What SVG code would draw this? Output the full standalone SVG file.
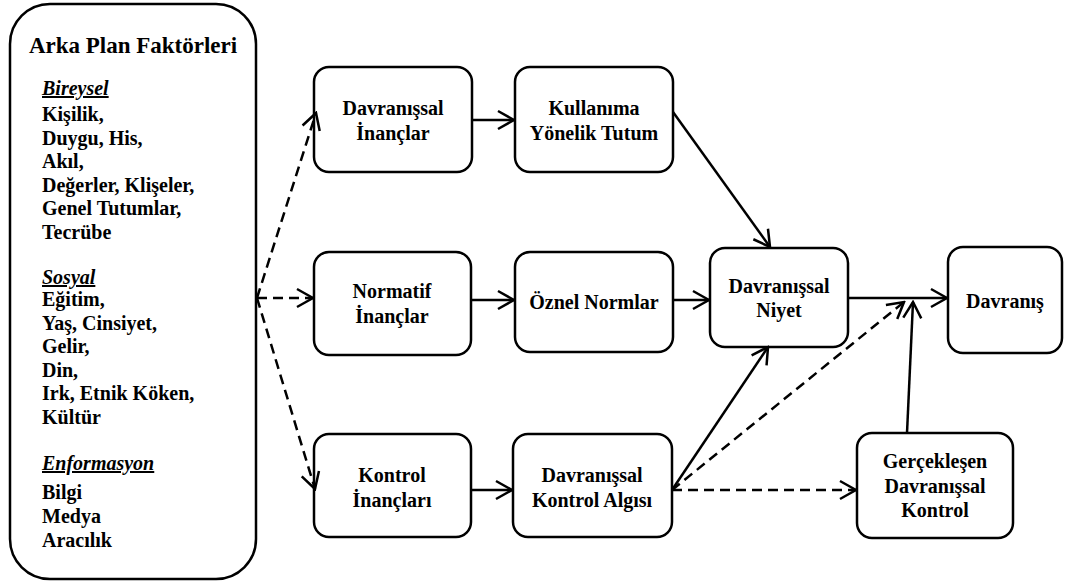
<svg xmlns="http://www.w3.org/2000/svg" width="1065" height="583" viewBox="0 0 1065 583">
  <style>
    .box { fill: #ffffff; stroke: #000000; stroke-width: 2.5; }
    .link { fill: none; stroke: #000000; stroke-width: 2.5; marker-end: url(#arrow); }
    .dash { stroke-dasharray: 10 6; }
  </style>
  <defs>
    <marker id="arrow" markerUnits="userSpaceOnUse" viewBox="-18 -12 20 24" markerWidth="20" markerHeight="24" refX="0" refY="0" orient="auto">
      <path d="M-16,-9 L0,0 L-16,9" fill="none" stroke="#000000" stroke-width="2.5"/>
    </marker>
  </defs>
  <rect width="1065" height="583" fill="#ffffff"/>

  <g font-weight="bold" font-size="20" fill="#000000">
  <!-- background factors panel -->
  <g id="arka-plan">
    <rect class="box" x="10" y="4" width="246" height="575" rx="40" ry="40"/>
    <text style="font-family:'Liberation Serif',serif !important" font-size="23" text-anchor="middle" x="133" y="53">Arka Plan Faktörleri</text>
    <text style="font-family:'Liberation Serif',serif !important" font-style="italic" text-decoration="underline" x="42" y="95">Bireysel</text>
    <text style="font-family:'Liberation Serif',serif !important" x="42" y="121">Kişilik,</text>
    <text style="font-family:'Liberation Serif',serif !important" x="42" y="145">Duygu, His,</text>
    <text style="font-family:'Liberation Serif',serif !important" x="42" y="168">Akıl,</text>
    <text style="font-family:'Liberation Serif',serif !important" x="42" y="192">Değerler, Klişeler,</text>
    <text style="font-family:'Liberation Serif',serif !important" x="42" y="215">Genel Tutumlar,</text>
    <text style="font-family:'Liberation Serif',serif !important" x="42" y="239">Tecrübe</text>
    <text style="font-family:'Liberation Serif',serif !important" font-style="italic" text-decoration="underline" x="42" y="284">Sosyal</text>
    <text style="font-family:'Liberation Serif',serif !important" x="42" y="306">Eğitim,</text>
    <text style="font-family:'Liberation Serif',serif !important" x="42" y="330">Yaş, Cinsiyet,</text>
    <text style="font-family:'Liberation Serif',serif !important" x="42" y="353">Gelir,</text>
    <text style="font-family:'Liberation Serif',serif !important" x="42" y="377">Din,</text>
    <text style="font-family:'Liberation Serif',serif !important" x="42" y="400">Irk, Etnik Köken,</text>
    <text style="font-family:'Liberation Serif',serif !important" x="42" y="424">Kültür</text>
    <text style="font-family:'Liberation Serif',serif !important" font-style="italic" text-decoration="underline" x="42" y="470">Enformasyon</text>
    <text style="font-family:'Liberation Serif',serif !important" x="42" y="499">Bilgi</text>
    <text style="font-family:'Liberation Serif',serif !important" x="42" y="523">Medya</text>
    <text style="font-family:'Liberation Serif',serif !important" x="42" y="547">Aracılık</text>
  </g>

  <g id="davranissal-inanclar" text-anchor="middle">
    <rect class="box" x="314" y="67" width="158" height="105" rx="15" ry="15"/>
    <text style="font-family:'Liberation Serif',serif !important" x="393" y="115">Davranışsal</text>
    <text style="font-family:'Liberation Serif',serif !important" x="393" y="140">İnançlar</text>
  </g>
  <g id="kullanima-yonelik-tutum" text-anchor="middle">
    <rect class="box" x="515" y="67" width="158" height="105" rx="15" ry="15"/>
    <text style="font-family:'Liberation Serif',serif !important" x="594" y="115">Kullanıma</text>
    <text style="font-family:'Liberation Serif',serif !important" x="594" y="140">Yönelik Tutum</text>
  </g>
  <g id="normatif-inanclar" text-anchor="middle">
    <rect class="box" x="314" y="252" width="157" height="103" rx="15" ry="15"/>
    <text style="font-family:'Liberation Serif',serif !important" x="392" y="298">Normatif</text>
    <text style="font-family:'Liberation Serif',serif !important" x="392" y="323">İnançlar</text>
  </g>
  <g id="oznel-normlar" text-anchor="middle">
    <rect class="box" x="515" y="252" width="158" height="100" rx="15" ry="15"/>
    <text style="font-family:'Liberation Serif',serif !important" x="594" y="309">Öznel Normlar</text>
  </g>
  <g id="kontrol-inanclari" text-anchor="middle">
    <rect class="box" x="314" y="434" width="157" height="103" rx="15" ry="15"/>
    <text style="font-family:'Liberation Serif',serif !important" x="392" y="482">Kontrol</text>
    <text style="font-family:'Liberation Serif',serif !important" x="392" y="507">İnançları</text>
  </g>
  <g id="davranissal-kontrol-algisi" text-anchor="middle">
    <rect class="box" x="513" y="434" width="159" height="103" rx="15" ry="15"/>
    <text style="font-family:'Liberation Serif',serif !important" x="592" y="482">Davranışsal</text>
    <text style="font-family:'Liberation Serif',serif !important" x="592" y="507">Kontrol Algısı</text>
  </g>
  <g id="davranissal-niyet" text-anchor="middle">
    <rect class="box" x="710" y="248" width="138" height="99" rx="15" ry="15"/>
    <text style="font-family:'Liberation Serif',serif !important" x="779" y="293">Davranışsal</text>
    <text style="font-family:'Liberation Serif',serif !important" x="779" y="317">Niyet</text>
  </g>
  <g id="davranis" text-anchor="middle">
    <rect class="box" x="948" y="247" width="114" height="106" rx="15" ry="15"/>
    <text style="font-family:'Liberation Serif',serif !important" x="1005" y="308">Davranış</text>
  </g>
  <g id="gerceklesen-kontrol" text-anchor="middle">
    <rect class="box" x="857" y="433" width="156" height="105" rx="15" ry="15"/>
    <text style="font-family:'Liberation Serif',serif !important" x="935" y="468">Gerçekleşen</text>
    <text style="font-family:'Liberation Serif',serif !important" x="935" y="493">Davranışsal</text>
    <text style="font-family:'Liberation Serif',serif !important" x="935" y="517">Kontrol</text>
  </g>
  </g>

  <!-- connectors: solid = direct paths, dashed = indirect influences -->
  <g id="connectors">
    <path class="link dash" d="M257,298 L316,113"/>
    <path class="link dash" d="M257,298 L313,298"/>
    <path class="link dash" d="M257,298 L315,489"/>
    <path class="link" d="M472,120 L514,120"/>
    <path class="link" d="M471,300 L514,300"/>
    <path class="link" d="M673,300 L709,300"/>
    <path class="link" d="M471,490 L512,490"/>
    <path class="link" d="M673,112 L770,247"/>
    <path class="link" d="M672,490 L768,347"/>
    <path class="link dash" d="M672,490 L904,302"/>
    <path class="link dash" d="M672,490 L856,490"/>
    <path class="link" d="M848,298 L947,298"/>
    <path class="link" d="M907,433 L913,302"/>
  </g>
</svg>
